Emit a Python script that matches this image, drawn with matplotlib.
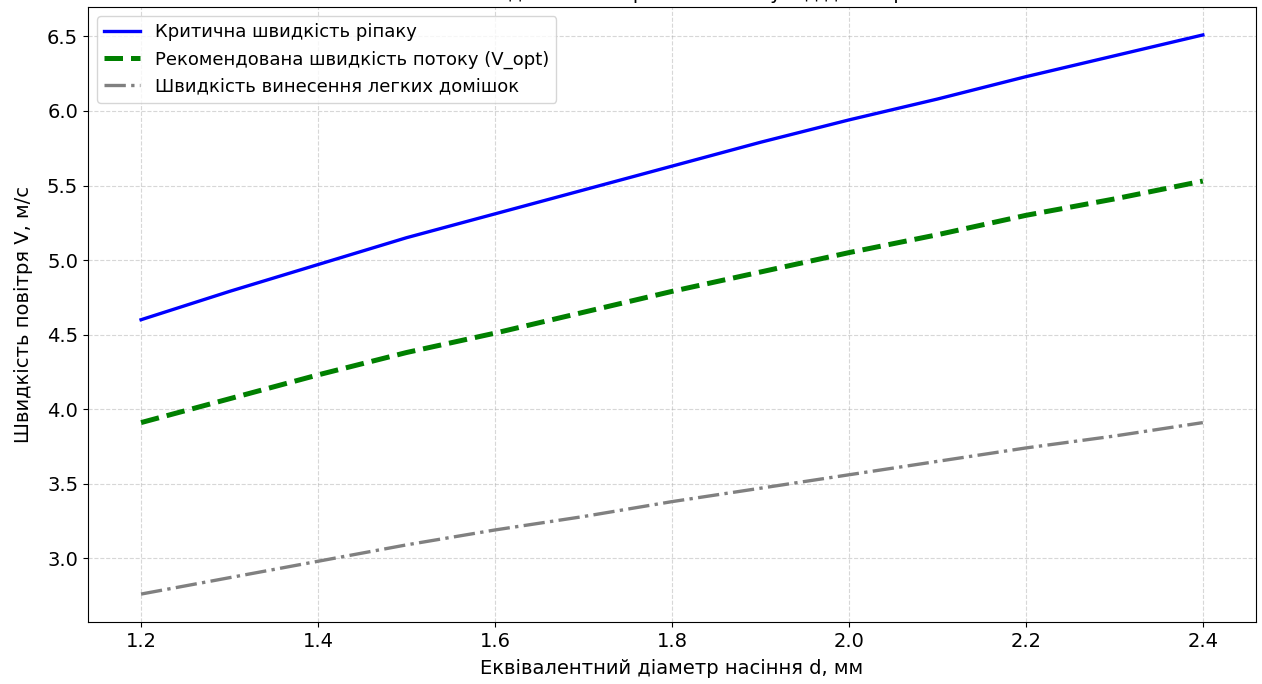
import matplotlib
matplotlib.use('Agg')
import matplotlib.pyplot as plt

# Data
d_mm = [1.2, 1.3, 1.4, 1.5, 1.6, 1.7, 1.8, 1.9, 2.0, 2.1, 2.2, 2.3, 2.4]
v_crit = [4.60, 4.79, 4.97, 5.15, 5.31, 5.47, 5.63, 5.79, 5.94, 6.08, 6.23, 6.37, 6.51]
v_opt = [3.91, 4.07, 4.23, 4.38, 4.51, 4.65, 4.79, 4.92, 5.05, 5.17, 5.30, 5.41, 5.53]
v_light = [2.76, 2.87, 2.98, 3.09, 3.19, 3.28, 3.38, 3.47, 3.56, 3.65, 3.74, 3.82, 3.91]

labels = ['Критична швидкість ріпаку',
          'Рекомендована швидкість потоку (V_opt)',
          'Швидкість винесення легких домішок']

fig = plt.figure(figsize=(12.62, 6.84), dpi=100)
ax = fig.add_axes([0.0697, 0.0906, 0.9255, 0.8992])

ax.plot(d_mm, v_crit, '-', color='blue', linewidth=2.4, label=labels[0])
ax.plot(d_mm, v_opt, '--', color='green', linewidth=3.6, label=labels[1])
ax.plot(d_mm, v_light, '-.', color='gray', linewidth=2.4, label=labels[2])

# title sits above the top edge, only its lower part shows (as in the reference)
ax.set_title('Залежність швидкості повітряного потоку від діаметра насіння', fontsize=14)
ax.set_xlabel('Еквівалентний діаметр насіння d, мм', fontsize=14, labelpad=6)
ax.set_ylabel('Швидкість повітря V, м/с', fontsize=14, labelpad=10)
ax.tick_params(labelsize=14)
ax.grid(True, linestyle='--', alpha=0.5)
ax.legend(loc='upper left', fontsize=13)

fig.savefig('out.png', dpi=100)
